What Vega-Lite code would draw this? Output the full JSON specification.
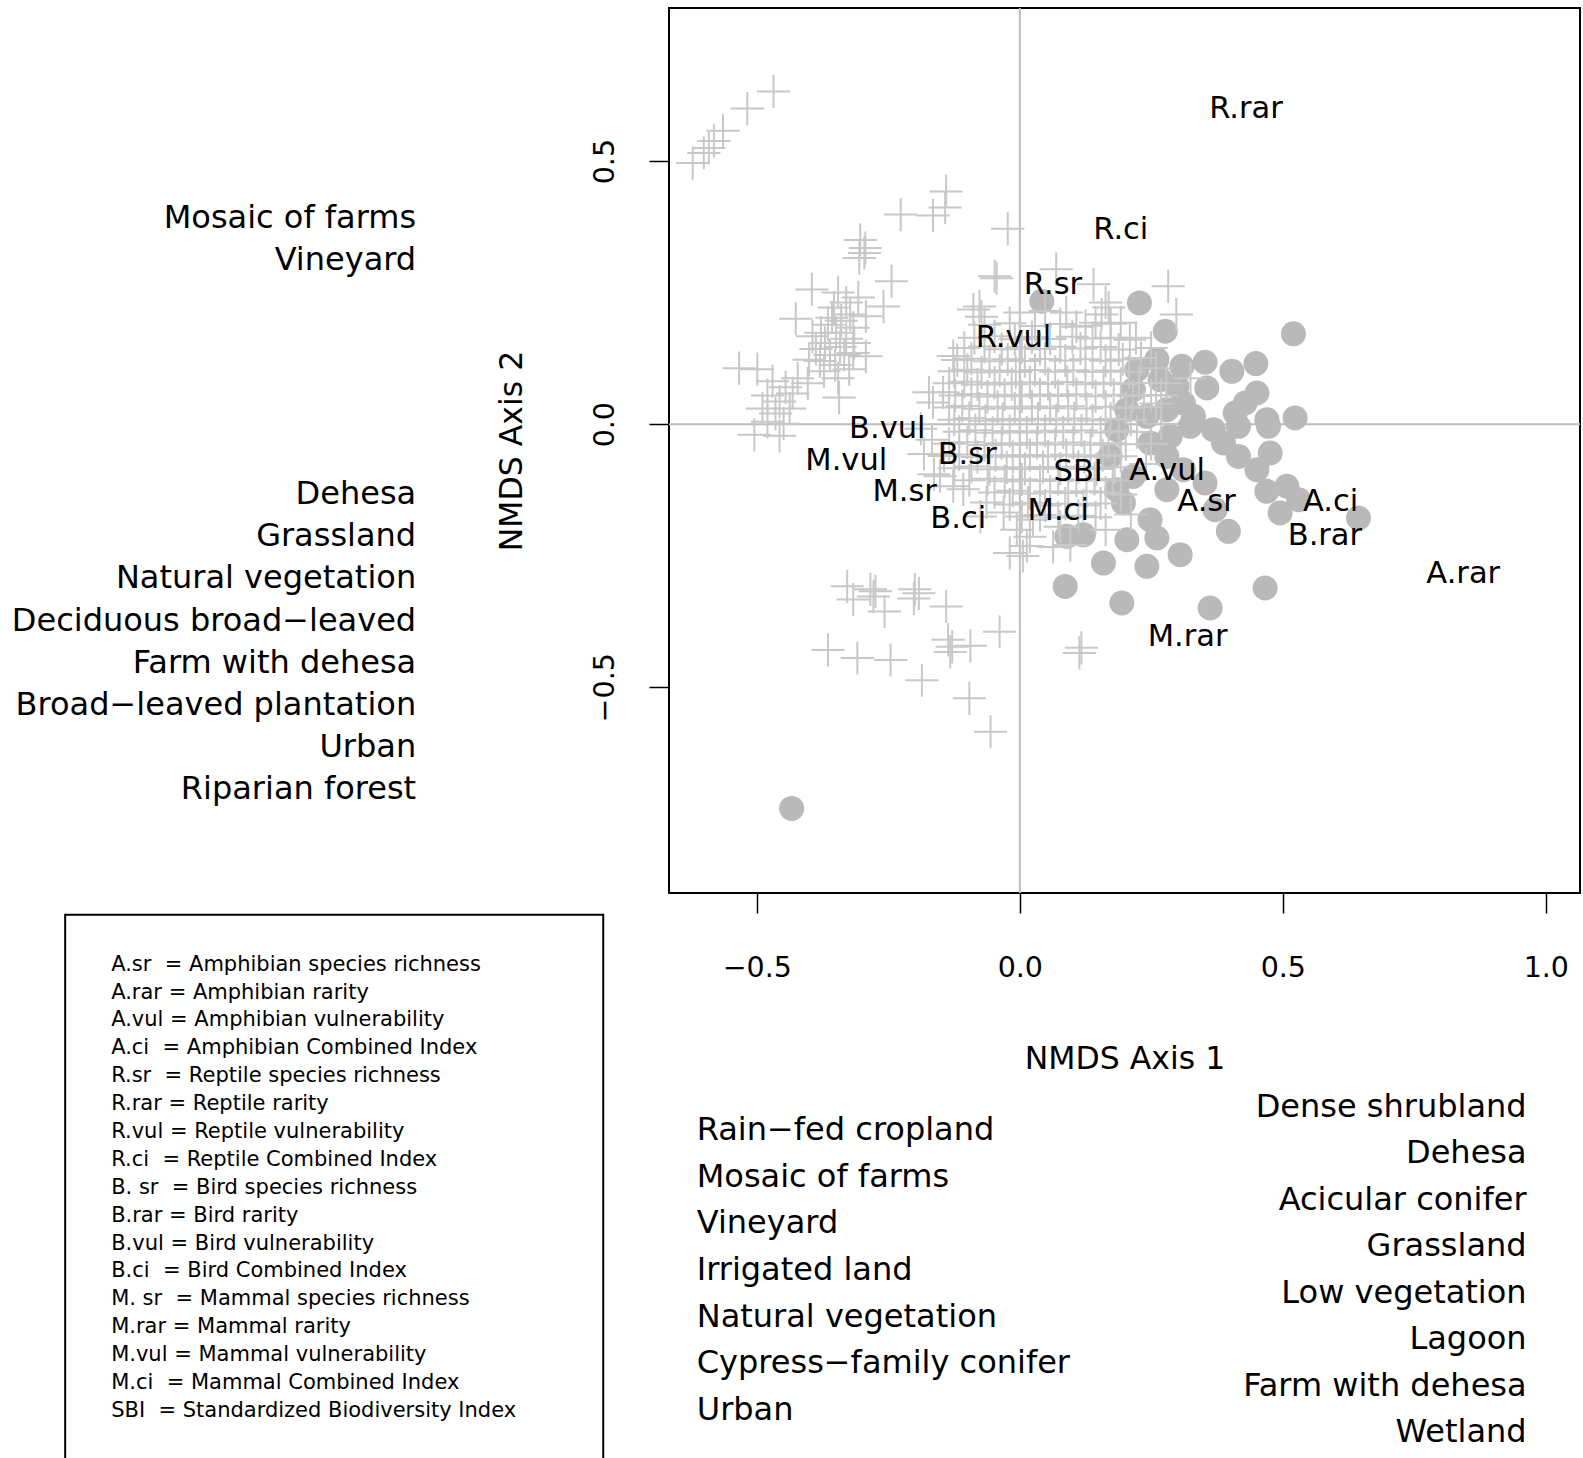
{
  "$schema": "https://vega.github.io/schema/vega-lite/v6.json",
  "width": 911,
  "height": 885,
  "autosize": {"type": "none"},
  "padding": {"left": 669, "top": 8, "right": 3, "bottom": 565},
  "background": "white",
  "config": {
    "view": {"stroke": "black", "strokeWidth": 2},
    "font": "DejaVu Sans",
    "text": {"font": "DejaVu Sans", "color": "black"},
    "axis": {"domain": false, "grid": false, "ticks": true, "tickColor": "black", "tickWidth": 1.5, "tickSize": 20, "labelFont": "DejaVu Sans", "labelFontSize": 28.5, "labelColor": "black", "titleFont": "DejaVu Sans", "titleFontSize": 31.5, "titleFontWeight": "normal", "titleColor": "black"}
  },
  "datasets": {
    "crosses": [
      {"x":-0.4683,"y":0.6324},{"x":-0.5182,"y":0.5998},{"x":-0.5643,"y":0.5576},{"x":-0.5816,"y":0.5384},{"x":-0.6008,"y":0.5154},{"x":-0.6219,"y":0.4962},{"x":-0.5912,"y":0.5250},
      {"x":-0.2265,"y":0.3983},{"x":-0.1651,"y":0.3964},{"x":-0.1401,"y":0.4424},{"x":-0.1420,"y":0.4117},{"x":-0.3033,"y":0.3503},{"x":-0.2956,"y":0.3253},{"x":-0.3052,"y":0.3157},{"x":-0.2937,"y":0.3349},{"x":-0.2438,"y":0.2716},{"x":-0.2591,"y":0.2236},{"x":-0.3954,"y":0.2562},{"x":-0.4261,"y":0.2006},{"x":-0.0480,"y":0.2812},{"x":-0.0768,"y":0.2236},{"x":-0.0230,"y":0.3714},
      {"x":-0.3455,"y":0.2505},{"x":-0.3301,"y":0.2313},{"x":-0.3532,"y":0.2217},{"x":-0.3225,"y":0.2083},{"x":-0.3397,"y":0.1967},{"x":-0.3647,"y":0.1891},{"x":-0.3167,"y":0.1833},{"x":-0.3493,"y":0.1737},{"x":-0.3301,"y":0.1622},{"x":-0.3704,"y":0.1545},{"x":-0.3417,"y":0.1468},{"x":-0.3148,"y":0.1545},{"x":-0.3608,"y":0.1315},{"x":-0.3340,"y":0.1315},{"x":-0.3800,"y":0.1200},{"x":-0.3512,"y":0.1123},{"x":-0.3244,"y":0.1046},{"x":-0.3724,"y":0.1008},{"x":-0.3071,"y":0.2409},{"x":-0.3781,"y":0.1737},{"x":-0.3877,"y":0.1430},{"x":-0.3455,"y":0.0873},{"x":-0.3167,"y":0.1353},{"x":-0.3570,"y":0.2025},
      {"x":-0.2927,"y":0.2052},{"x":-0.2927,"y":0.1290},{"x":-0.4006,"y":0.1226},{"x":-0.3942,"y":0.1670},
      {"x":-0.5336,"y":0.1065},{"x":-0.4990,"y":0.1046},{"x":-0.3436,"y":0.0509},
      {"x":-0.4702,"y":0.0816},{"x":-0.4453,"y":0.0701},{"x":-0.4798,"y":0.0547},{"x":-0.4568,"y":0.0432},{"x":-0.4319,"y":0.0585},{"x":-0.4894,"y":0.0298},{"x":-0.4645,"y":0.0202},{"x":-0.4376,"y":0.0298},{"x":-0.4798,"y":0.0048},{"x":-0.4491,"y":0.0010},{"x":-0.4223,"y":0.0873},{"x":-0.5048,"y":-0.0202},{"x":-0.4568,"y":-0.0221},{"x":-0.4031,"y":0.0777},
      {"x":-0.3282,"y":-0.3081},{"x":-0.3167,"y":-0.3330},{"x":-0.2841,"y":-0.3138},{"x":-0.2745,"y":-0.3177},{"x":-0.2783,"y":-0.3273},{"x":-0.2572,"y":-0.3560},{"x":-0.1996,"y":-0.3138},{"x":-0.2015,"y":-0.3311},{"x":-0.1919,"y":-0.3215},{"x":-0.1401,"y":-0.3464},{"x":-0.3647,"y":-0.4290},{"x":-0.3090,"y":-0.4443},{"x":-0.2457,"y":-0.4482},{"x":-0.1862,"y":-0.4866},{"x":-0.1363,"y":-0.4098},{"x":-0.1286,"y":-0.4232},{"x":-0.1324,"y":-0.4328},{"x":-0.0940,"y":-0.4213},{"x":-0.0384,"y":-0.3944},{"x":-0.0960,"y":-0.5211},{"x":-0.0557,"y":-0.5845},{"x":0.1171,"y":-0.4251},{"x":0.1132,"y":-0.4347},
      {"x":-0.0441,"y":0.2774},{"x":0.0691,"y":0.2946},{"x":0.1401,"y":0.2658},{"x":0.1555,"y":0.2083},{"x":-0.0883,"y":0.2179},{"x":-0.0729,"y":0.2044},{"x":0.0883,"y":0.2121},{"x":0.1075,"y":0.1852},{"x":0.1689,"y":0.2217},{"x":0.2821,"y":0.2620},{"x":0.2975,"y":0.2083},{"x":0.2092,"y":0.1603},{"x":0.3244,"y":0.0873},{"x":-0.1651,"y":0.0413},{"x":-0.1459,"y":0.0605},{"x":-0.1267,"y":0.1296},{"x":-0.1727,"y":0.0605},{"x":-0.1670,"y":-0.0298},
      {"x":0.1631,"y":0.2313},{"x":0.1919,"y":0.1929},{"x":0.2207,"y":0.1641},{"x":0.1727,"y":0.1641},{"x":0.2495,"y":0.1449},{"x":0.1440,"y":0.1929},{"x":0.2303,"y":0.1257},{"x":0.2591,"y":0.1065},{"x":0.2687,"y":0.0547},
      {"x":0.2591,"y":0.0393},{"x":0.2687,"y":0.0010},{"x":0.2495,"y":-0.0374},{"x":0.2783,"y":0.0777},{"x":0.2399,"y":-0.0758},{"x":0.1919,"y":-0.1334},{"x":0.2111,"y":-0.1718},{"x":0.1631,"y":-0.2006},{"x":0.0960,"y":-0.2294},
      {"x":0.0058,"y":-0.2505},{"x":0.0192,"y":-0.2140},{"x":-0.0058,"y":-0.2006},{"x":-0.0307,"y":-0.1679},{"x":-0.0633,"y":-0.1488},{"x":-0.1075,"y":-0.1238},{"x":-0.1516,"y":-0.0988},{"x":-0.1267,"y":-0.1180},{"x":-0.0749,"y":-0.1756},{"x":0.0250,"y":-0.1814},{"x":0.0768,"y":-0.1948},{"x":0.0633,"y":-0.2332},{"x":-0.0192,"y":-0.2447},{"x":0.0134,"y":-0.2313},
      {"x":-0.1823,"y":-0.0566},{"x":-0.1631,"y":-0.0950},{"x":-0.1881,"y":-0.0086},
      {"x":0.0000,"y":0.2121},{"x":0.0480,"y":0.2150},
      {"x":-0.0672,"y":0.1891},{"x":-0.0192,"y":0.1920},{"x":0.0288,"y":0.1865},{"x":0.0768,"y":0.1905},{"x":0.1248,"y":0.1870},{"x":0.1727,"y":0.1910},
      {"x":-0.0864,"y":0.1641},{"x":-0.0480,"y":0.1670},{"x":-0.0096,"y":0.1615},{"x":0.0230,"y":0.1655},{"x":0.0576,"y":0.1620},{"x":0.0998,"y":0.1660},{"x":0.1382,"y":0.1630},
      {"x":-0.1056,"y":0.1449},{"x":-0.0672,"y":0.1475},{"x":-0.0345,"y":0.1425},{"x":0.0038,"y":0.1460},{"x":0.0384,"y":0.1430},{"x":0.0768,"y":0.1470},{"x":0.1152,"y":0.1440},{"x":0.1536,"y":0.1465},{"x":0.1881,"y":0.1420},
      {"x":-0.1190,"y":0.1219},{"x":-0.0921,"y":0.1245},{"x":-0.0576,"y":0.1195},{"x":-0.0230,"y":0.1235},{"x":0.0096,"y":0.1200},{"x":0.0480,"y":0.1240},{"x":0.0864,"y":0.1210},{"x":0.1248,"y":0.1235},{"x":0.1631,"y":0.1205},{"x":0.1958,"y":0.1230},
      {"x":-0.1248,"y":0.1008},{"x":-0.0998,"y":0.1035},{"x":-0.0729,"y":0.0985},{"x":-0.0384,"y":0.1020},{"x":-0.0077,"y":0.0990},{"x":0.0288,"y":0.1030},{"x":0.0672,"y":0.0995},{"x":0.1017,"y":0.1025},{"x":0.1382,"y":0.0990},{"x":0.1727,"y":0.1020},{"x":0.2073,"y":0.0995},
      {"x":-0.1344,"y":0.0777},{"x":-0.1056,"y":0.0805},{"x":-0.0806,"y":0.0755},{"x":-0.0480,"y":0.0790},{"x":-0.0154,"y":0.0760},{"x":0.0192,"y":0.0795},{"x":0.0537,"y":0.0765},{"x":0.0902,"y":0.0800},{"x":0.1248,"y":0.0760},{"x":0.1593,"y":0.0790},{"x":0.1919,"y":0.0765},{"x":0.2265,"y":0.0785},
      {"x":-0.1228,"y":0.0547},{"x":-0.0921,"y":0.0575},{"x":-0.0614,"y":0.0525},{"x":-0.0288,"y":0.0560},{"x":0.0038,"y":0.0530},{"x":0.0384,"y":0.0565},{"x":0.0729,"y":0.0535},{"x":0.1075,"y":0.0570},{"x":0.1440,"y":0.0530},{"x":0.1785,"y":0.0560},{"x":0.2150,"y":0.0535},{"x":0.2495,"y":0.0555},
      {"x":-0.1344,"y":0.0317},{"x":-0.1094,"y":0.0345},{"x":-0.0768,"y":0.0295},{"x":-0.0422,"y":0.0330},{"x":-0.0096,"y":0.0300},{"x":0.0230,"y":0.0335},{"x":0.0576,"y":0.0305},{"x":0.0921,"y":0.0340},{"x":0.1267,"y":0.0300},{"x":0.1631,"y":0.0330},{"x":0.2015,"y":0.0305},{"x":0.2361,"y":0.0325},
      {"x":-0.1248,"y":0.0086},{"x":-0.0960,"y":0.0115},{"x":-0.0653,"y":0.0065},{"x":-0.0326,"y":0.0100},{"x":0.0000,"y":0.0070},{"x":0.0345,"y":0.0105},{"x":0.0691,"y":0.0075},{"x":0.1036,"y":0.0110},{"x":0.1382,"y":0.0070},{"x":0.1727,"y":0.0100},{"x":0.2111,"y":0.0080},
      {"x":-0.1152,"y":-0.0144},{"x":-0.0845,"y":-0.0115},{"x":-0.0518,"y":-0.0165},{"x":-0.0192,"y":-0.0130},{"x":0.0134,"y":-0.0160},{"x":0.0480,"y":-0.0125},{"x":0.0825,"y":-0.0155},{"x":0.1171,"y":-0.0120},{"x":0.1536,"y":-0.0160},{"x":0.1881,"y":-0.0130},{"x":0.2226,"y":-0.0150},
      {"x":-0.1344,"y":-0.0374},{"x":-0.0998,"y":-0.0345},{"x":-0.0672,"y":-0.0395},{"x":-0.0345,"y":-0.0360},{"x":0.0000,"y":-0.0390},{"x":0.0326,"y":-0.0355},{"x":0.0672,"y":-0.0385},{"x":0.1017,"y":-0.0350},{"x":0.1344,"y":-0.0390},{"x":0.1689,"y":-0.0360},{"x":0.2015,"y":-0.0380},
      {"x":-0.1440,"y":-0.0605},{"x":-0.1152,"y":-0.0575},{"x":-0.0806,"y":-0.0625},{"x":-0.0461,"y":-0.0590},{"x":-0.0134,"y":-0.0620},{"x":0.0192,"y":-0.0585},{"x":0.0537,"y":-0.0615},{"x":0.0883,"y":-0.0580},{"x":0.1228,"y":-0.0620},{"x":0.1574,"y":-0.0590},{"x":0.1919,"y":-0.0610},
      {"x":-0.1248,"y":-0.0835},{"x":-0.0921,"y":-0.0805},{"x":-0.0576,"y":-0.0855},{"x":-0.0250,"y":-0.0820},{"x":0.0096,"y":-0.0850},{"x":0.0441,"y":-0.0815},{"x":0.0768,"y":-0.0845},{"x":0.1113,"y":-0.0810},{"x":0.1459,"y":-0.0850},{"x":0.1804,"y":-0.0820},
      {"x":-0.0960,"y":-0.1065},{"x":-0.0614,"y":-0.1035},{"x":-0.0288,"y":-0.1085},{"x":0.0038,"y":-0.1050},{"x":0.0384,"y":-0.1080},{"x":0.0729,"y":-0.1045},{"x":0.1075,"y":-0.1075},{"x":0.1420,"y":-0.1040},{"x":0.1766,"y":-0.1070},
      {"x":-0.0480,"y":-0.1296},{"x":-0.0134,"y":-0.1265},{"x":0.0192,"y":-0.1315},{"x":0.0576,"y":-0.1280},{"x":0.0921,"y":-0.1310},{"x":0.1267,"y":-0.1275},{"x":0.1631,"y":-0.1300},
      {"x":-0.0192,"y":-0.1526},{"x":0.0154,"y":-0.1495},{"x":0.0480,"y":-0.1545},{"x":0.0864,"y":-0.1510},{"x":0.1209,"y":-0.1540},{"x":0.1536,"y":-0.1505},
      {"x":0.0038,"y":-0.1756},{"x":0.0384,"y":-0.1725},{"x":0.0729,"y":-0.1775},{"x":0.1113,"y":-0.1740},{"x":0.1440,"y":-0.1770}
    ],
    "circles": [
      {"x":0.2274,"y":0.2305},{"x":0.2764,"y":0.1766},{"x":0.5202,"y":0.1718},{"x":0.3081,"y":0.1100},{"x":0.3522,"y":0.1177},{"x":0.4031,"y":0.1004},{"x":0.4488,"y":0.1152},{"x":0.4507,"y":0.0593},{"x":0.4284,"y":0.0403},{"x":0.4094,"y":0.0213},{"x":0.4697,"y":0.0086},{"x":0.5234,"y":0.0119},{"x":0.4727,"y":-0.0040},{"x":0.3555,"y":0.0689},{"x":0.2668,"y":0.0846},{"x":0.2225,"y":0.1036},{"x":0.3301,"y":0.0150},{"x":0.3681,"y":-0.0106},{"x":0.4157,"y":-0.0040},{"x":0.3871,"y":-0.0357},{"x":0.4157,"y":-0.0612},{"x":0.4507,"y":-0.0864},{"x":0.4760,"y":-0.0547},{"x":0.4697,"y":-0.1276},{"x":0.5077,"y":-0.1180},{"x":0.4948,"y":-0.1687},{"x":0.5298,"y":-0.1434},{"x":0.6438,"y":-0.1783},{"x":0.3522,"y":-0.1117},{"x":0.3712,"y":-0.1626},{"x":0.3965,"y":-0.2036},{"x":0.3048,"y":-0.2480},{"x":0.2605,"y":-0.2163},{"x":0.2415,"y":-0.2702},{"x":0.1939,"y":-0.3399},{"x":0.1589,"y":-0.2639},{"x":0.0862,"y":-0.3083},{"x":0.3618,"y":-0.3493},{"x":0.4664,"y":-0.3113},{"x":0.2035,"y":-0.2196},{"x":0.2476,"y":-0.1814},{"x":0.1969,"y":-0.1497},{"x":0.0894,"y":-0.2132},{"x":0.1209,"y":-0.2102},{"x":0.2154,"y":-0.0992},{"x":0.1843,"y":-0.0104},{"x":0.2035,"y":0.0276},{"x":0.2415,"y":0.0150},{"x":0.2795,"y":0.0276},{"x":0.3109,"y":0.0403},{"x":0.3238,"y":-0.0040},{"x":0.2858,"y":-0.0232},{"x":0.2476,"y":-0.0357},{"x":0.2159,"y":0.0656},{"x":0.2605,"y":0.1226},{"x":0.2985,"y":0.0720},{"x":0.1716,"y":-0.0612},{"x":0.2795,"y":-0.0612},{"x":0.3109,"y":-0.0864},{"x":0.2795,"y":-0.1244},{"x":0.1843,"y":-0.1244},{"x":0.0418,"y":0.2336},{"x":-0.4338,"y":-0.7303}
    ],
    "species": [
      {"label":"R.rar","x":0.430,"y":0.602},{"label":"R.ci","x":0.192,"y":0.373},{"label":"R.sr","x":0.063,"y":0.268},{"label":"R.vul","x":-0.012,"y":0.168},
      {"label":"B.vul","x":-0.252,"y":-0.005},{"label":"M.vul","x":-0.330,"y":-0.066},{"label":"B.sr","x":-0.100,"y":-0.055},{"label":"M.sr","x":-0.219,"y":-0.126},{"label":"B.ci","x":-0.117,"y":-0.176},
      {"label":"SBI","x":0.111,"y":-0.087},{"label":"M.ci","x":0.073,"y":-0.162},{"label":"A.vul","x":0.280,"y":-0.086},{"label":"A.sr","x":0.355,"y":-0.145},{"label":"A.ci","x":0.591,"y":-0.145},{"label":"B.rar","x":0.580,"y":-0.208},{"label":"A.rar","x":0.843,"y":-0.281},{"label":"M.rar","x":0.319,"y":-0.400}
    ],
    "listL1": [{"i":0,"label":"Mosaic of farms"},{"i":1,"label":"Vineyard"}],
    "listL2": [{"i":0,"label":"Dehesa"},{"i":1,"label":"Grassland"},{"i":2,"label":"Natural vegetation"},{"i":3,"label":"Deciduous broad−leaved"},{"i":4,"label":"Farm with dehesa"},{"i":5,"label":"Broad−leaved plantation"},{"i":6,"label":"Urban"},{"i":7,"label":"Riparian forest"}],
    "listB1": [{"i":0,"label":"Rain−fed cropland"},{"i":1,"label":"Mosaic of farms"},{"i":2,"label":"Vineyard"},{"i":3,"label":"Irrigated land"},{"i":4,"label":"Natural vegetation"},{"i":5,"label":"Cypress−family conifer"},{"i":6,"label":"Urban"}],
    "listB2": [{"i":0,"label":"Dense shrubland"},{"i":1,"label":"Dehesa"},{"i":2,"label":"Acicular conifer"},{"i":3,"label":"Grassland"},{"i":4,"label":"Low vegetation"},{"i":5,"label":"Lagoon"},{"i":6,"label":"Farm with dehesa"},{"i":7,"label":"Wetland"}],
    "legend": [
      {"i":0,"label":"A.sr\u00a0 = Amphibian species richness"},
      {"i":1,"label":"A.rar = Amphibian rarity"},
      {"i":2,"label":"A.vul = Amphibian vulnerability"},
      {"i":3,"label":"A.ci\u00a0 = Amphibian Combined Index"},
      {"i":4,"label":"R.sr\u00a0 = Reptile species richness"},
      {"i":5,"label":"R.rar = Reptile rarity"},
      {"i":6,"label":"R.vul = Reptile vulnerability"},
      {"i":7,"label":"R.ci\u00a0 = Reptile Combined Index"},
      {"i":8,"label":"B. sr\u00a0 = Bird species richness"},
      {"i":9,"label":"B.rar = Bird rarity"},
      {"i":10,"label":"B.vul = Bird vulnerability"},
      {"i":11,"label":"B.ci\u00a0 = Bird Combined Index"},
      {"i":12,"label":"M. sr\u00a0 = Mammal species richness"},
      {"i":13,"label":"M.rar = Mammal rarity"},
      {"i":14,"label":"M.vul = Mammal vulnerability"},
      {"i":15,"label":"M.ci\u00a0 = Mammal Combined Index"},
      {"i":16,"label":"SBI\u00a0 = Standardized Biodiversity Index"}
    ]
  },
  "layer": [
    {
      "data": {"values": [{}]},
      "mark": {"type": "rule", "color": "#bdbdbd", "strokeWidth": 2},
      "encoding": {"x": {"datum": 0, "type": "quantitative", "scale": {"domain": [-0.667, 1.065], "nice": false, "zero": false}, "axis": null}}
    },
    {
      "data": {"values": [{}]},
      "mark": {"type": "rule", "color": "#bdbdbd", "strokeWidth": 2},
      "encoding": {"y": {"datum": 0, "type": "quantitative", "scale": {"domain": [-0.891, 0.791], "nice": false, "zero": false}, "axis": null}}
    },
    {
      "data": {"values": [{}]},
      "mark": {"type": "rect", "fillOpacity": 0, "stroke": "black", "strokeWidth": 2},
      "encoding": {
        "x": {"datum": -1.815, "type": "quantitative", "scale": {"domain": [-0.667, 1.065], "nice": false, "zero": false}, "axis": null},
        "x2": {"datum": -0.792},
        "y": {"datum": -0.9325, "type": "quantitative", "scale": {"domain": [-0.891, 0.791], "nice": false, "zero": false}, "axis": null},
        "y2": {"datum": -1.99}
      }
    },
    {
      "data": {"name": "circles"},
      "mark": {"type": "point", "shape": "circle", "filled": true, "color": "#b9b9b9", "opacity": 1, "size": 625, "strokeWidth": 0},
      "encoding": {
        "x": {"field": "x", "type": "quantitative", "scale": {"domain": [-0.667, 1.065], "nice": false, "zero": false},
              "axis": {"orient": "bottom", "values": [-0.5, 0, 0.5, 1], "format": ".1f", "title": "NMDS Axis 1", "labelPadding": 40, "titlePadding": 62}},
        "y": {"field": "y", "type": "quantitative", "scale": {"domain": [-0.891, 0.791], "nice": false, "zero": false},
              "axis": {"orient": "left", "values": [-0.5, 0, 0.5], "format": ".1f", "title": "NMDS Axis 2", "labelAngle": -90, "labelAlign": "center", "labelBaseline": "bottom", "labelPadding": 30, "titlePadding": 62}}
      }
    },
    {
      "data": {"name": "crosses"},
      "mark": {"type": "point", "shape": "M-1,0H1M0,-1V1", "filled": false, "color": "#c8c8c8", "opacity": 1, "size": 1100, "strokeWidth": 2},
      "encoding": {
        "x": {"field": "x", "type": "quantitative", "scale": {"domain": [-0.667, 1.065], "nice": false, "zero": false}, "axis": null},
        "y": {"field": "y", "type": "quantitative", "scale": {"domain": [-0.891, 0.791], "nice": false, "zero": false}, "axis": null}
      }
    },
    {
      "data": {"name": "species"},
      "mark": {"type": "text", "fontSize": 30.5, "align": "center", "baseline": "middle", "dy": 2, "color": "black"},
      "encoding": {
        "x": {"field": "x", "type": "quantitative", "scale": {"domain": [-0.667, 1.065], "nice": false, "zero": false}, "axis": null},
        "y": {"field": "y", "type": "quantitative", "scale": {"domain": [-0.891, 0.791], "nice": false, "zero": false}, "axis": null},
        "text": {"field": "label"}
      }
    },
    {
      "data": {"name": "listL1"},
      "mark": {"type": "text", "fontSize": 32, "align": "right", "baseline": "middle", "dy": 2, "color": "black"},
      "encoding": {
        "x": {"datum": -1.1477, "type": "quantitative", "scale": {"domain": [-0.667, 1.065], "nice": false, "zero": false}, "axis": null},
        "y": {"field": "i", "type": "quantitative", "scale": {"domain": [-4.930, 16.091], "reverse": true, "nice": false, "zero": false}, "axis": null},
        "text": {"field": "label"}
      }
    },
    {
      "data": {"name": "listL2"},
      "mark": {"type": "text", "fontSize": 32, "align": "right", "baseline": "middle", "dy": 2, "color": "black"},
      "encoding": {
        "x": {"datum": -1.1477, "type": "quantitative", "scale": {"domain": [-0.667, 1.065], "nice": false, "zero": false}, "axis": null},
        "y": {"field": "i", "type": "quantitative", "scale": {"domain": [-11.498, 9.518], "reverse": true, "nice": false, "zero": false}, "axis": null},
        "text": {"field": "label"}
      }
    },
    {
      "data": {"name": "listB1"},
      "mark": {"type": "text", "fontSize": 32, "align": "left", "baseline": "middle", "dy": 2, "color": "black"},
      "encoding": {
        "x": {"datum": -0.6143, "type": "quantitative", "scale": {"domain": [-0.667, 1.065], "nice": false, "zero": false}, "axis": null},
        "y": {"field": "i", "type": "quantitative", "scale": {"domain": [-24.028, -5.045], "reverse": true, "nice": false, "zero": false}, "axis": null},
        "text": {"field": "label"}
      }
    },
    {
      "data": {"name": "listB2"},
      "mark": {"type": "text", "fontSize": 32, "align": "right", "baseline": "middle", "dy": 2, "color": "black"},
      "encoding": {
        "x": {"datum": 0.9635, "type": "quantitative", "scale": {"domain": [-0.667, 1.065], "nice": false, "zero": false}, "axis": null},
        "y": {"field": "i", "type": "quantitative", "scale": {"domain": [-23.622, -4.565], "reverse": true, "nice": false, "zero": false}, "axis": null},
        "text": {"field": "label"}
      }
    },
    {
      "data": {"name": "legend"},
      "mark": {"type": "text", "fontSize": 21, "align": "left", "baseline": "middle", "dy": 1, "color": "black"},
      "encoding": {
        "x": {"datum": -1.7276, "type": "quantitative", "scale": {"domain": [-0.667, 1.065], "nice": false, "zero": false}, "axis": null},
        "y": {"field": "i", "type": "quantitative", "scale": {"domain": [-34.267, -2.535], "reverse": true, "nice": false, "zero": false}, "axis": null},
        "text": {"field": "label"}
      }
    }
  ],
  "resolve": {"scale": {"x": "independent", "y": "independent"}}
}
